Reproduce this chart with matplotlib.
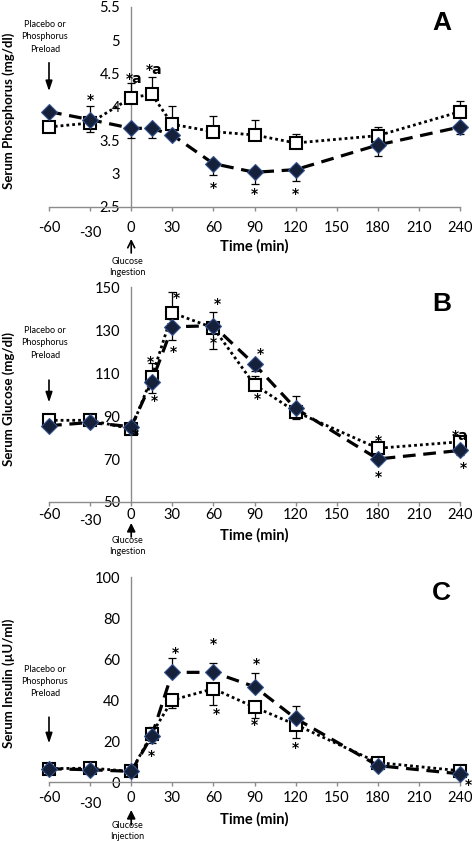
import matplotlib
matplotlib.use('Agg')
import matplotlib.pyplot as plt
import numpy as np
from matplotlib.transforms import offset_copy, blended_transform_factory, ScaledTranslation

plt.rcParams['font.family'] = ['Lato', 'DejaVu Sans']

# Sample times (min)
time = [-60, -30, 0, 15, 30, 60, 90, 120, 180, 240]
xticks = [-60, -30, 0, 30, 60, 90, 120, 150, 180, 210, 240]

# Panel A - serum phosphorus (mg/dl)
phos_p = [3.93, 3.81, 3.68, 3.68, 3.58, 3.15, 3.02, 3.06, 3.43, 3.70]
phos_p_err = [0.05, 0.18, 0.15, 0.15, 0.05, 0.17, 0.18, 0.17, 0.16, 0.11]
phos_c = [3.70, 3.76, 4.14, 4.19, 3.74, 3.63, 3.58, 3.46, 3.57, 3.93]
phos_c_err = [0.05, 0.26, 0.22, 0.26, 0.27, 0.23, 0.23, 0.14, 0.13, 0.16]

# Panel B - serum glucose (mg/dl)
glu_p = [85.5, 87, 85, 106, 131.5, 132, 114, 93.5, 70, 74]
glu_p_err = [1, 1, 1.5, 5.5, 6, 11, 3, 5, 2, 2]
glu_c = [88, 88, 84, 108, 138, 131, 104.5, 92, 75, 78]
glu_c_err = [1, 1, 1, 6.5, 9.5, 7.5, 4, 7.5, 3, 2]

# Panel C - serum insulin (uU/ml)
ins_p = [6.5, 6, 5.2, 22.5, 53.5, 53.5, 46.5, 31, 8, 4]
ins_p_err = [1, 1, 1, 4.5, 7, 4.5, 6.5, 6, 1, 1]
ins_c = [6.5, 6.8, 5.2, 23.5, 40, 45.5, 36.5, 28, 9.5, 5.5]
ins_c_err = [1, 1, 1, 4.5, 4, 8, 5.5, 6.5, 1, 1]

# significance marks (x, y, text)
marks_a = [(-30, 4.1, '*'), (2, 4.42, '*a'), (17, 4.56, '*a'),
           (60, 2.78, '*'), (90, 2.70, '*'), (120, 2.70, '*')]
marks_b = [(3, 81, '*'), (14, 115, '*'), (17, 97, '*'), (33, 145, '*'),
           (31, 120, '*'), (63, 142, '*'), (60, 124, '*'), (94, 119, '*'),
           (92, 98, '*'), (180, 78.5, '*'), (180, 61.5, '*'), (240, 80.5, '*a'),
           (242, 66, '*')]
marks_c = [(15, 12.5, '*'), (32, 63, '*'), (60, 67.5, '*'), (62, 33, '*'),
           (91, 57.5, '*'), (90, 28, '*'), (120, 16.5, '*'), (246, -1.5, '*')]

panels = [
    dict(p=phos_p, pe=phos_p_err, c=phos_c, ce=phos_c_err, ylim=(2.5, 5.5),
         yticks=np.arange(2.5, 5.51, 0.5), ylabel='Serum Phosphorus (mg/dl)',
         letter='A', marks=marks_a, pe_side='low', ce_side='high',
         rect=[0.1038, 0.7539, 0.871, 0.2378], pre_txt=0.85, pre_arr=(0.735, 0.565),
         xpad=7, tlab=39, glu=('Glucose\nIngestion', 32, 46, 60, '->')),
    dict(p=glu_p, pe=glu_p_err, c=glu_c, ce=glu_c_err, ylim=(50, 150),
         yticks=np.arange(50, 151, 20), ylabel='Serum Glucose (mg/dl)',
         letter='B', marks=marks_b, pe_side='low', ce_side='high',
         rect=[0.1038, 0.4031, 0.871, 0.2556], pre_txt=0.74, pre_arr=(0.58, 0.45),
         xpad=1.5, tlab=33, glu=('Glucose\nIngestion', 21, 35, 44, '-|>')),
    dict(p=ins_p, pe=ins_p_err, c=ins_c, ce=ins_c_err, ylim=(0, 100),
         yticks=np.arange(0, 101, 20), ylabel='Serum Insulin (\u00b5U/ml)',
         letter='C', marks=marks_c, pe_side='high', ce_side='low',
         rect=[0.1038, 0.0701, 0.871, 0.2438], pre_txt=0.49, pre_arr=(0.33, 0.175),
         xpad=3.6, tlab=37, glu=('Glucose\nInjection', 28, 43, 49, '-|>')),
]

fig = plt.figure(figsize=(4.72, 8.41), dpi=100)
axis_col = '#8c8c8c'
px = 72 / 100  # points per pixel


def yerr(err, side):
    err = np.array(err)
    z = np.zeros_like(err)
    return [err, z] if side == 'low' else [z, err]


for pn in panels:
    ax = fig.add_axes(pn['rect'])
    ax.set_xlim(-60, 240)
    ax.set_ylim(*pn['ylim'])

    # placebo (open squares, dotted)
    ax.errorbar(time, pn['c'], yerr=yerr(pn['ce'], pn['ce_side']), fmt='none',
                ecolor='black', elinewidth=0.9, capsize=3, capthick=0.9, zorder=3, clip_on=False)
    ax.plot(time, pn['c'], color='black', lw=2.0, linestyle=(0, (1, 1.1)),
            marker='s', markersize=9, markerfacecolor='white', markeredgecolor='black',
            markeredgewidth=1.5, zorder=4, clip_on=False)
    # phosphorus (filled diamonds, dashed)
    ax.errorbar(time, pn['p'], yerr=yerr(pn['pe'], pn['pe_side']), fmt='none',
                ecolor='black', elinewidth=0.9, capsize=3, capthick=0.9, zorder=5, clip_on=False)
    ax.plot(time, pn['p'], color='black', lw=2.3, linestyle=(0, (4, 2.4)),
            marker='D', markersize=8, markerfacecolor='#15203a', markeredgecolor='#34528c',
            markeredgewidth=0.8, zorder=6, clip_on=False)

    for x, y, t in pn['marks']:
        ax.text(x, y, t, ha='center', va='center', fontsize=10, fontweight='bold',
                family=['DejaVu Sans'], zorder=7)

    # axes styling: y axis crosses at x = 0
    for s in ['top', 'right']:
        ax.spines[s].set_visible(False)
    ax.spines['left'].set_position(('data', 0))
    for s in ['left', 'bottom']:
        ax.spines[s].set_color(axis_col)
        ax.spines[s].set_linewidth(1.0)
    ax.set_xticks(xticks)
    ax.set_xticklabels([str(v) for v in xticks])
    ax.set_yticks(pn['yticks'])
    ax.set_yticklabels(['{:g}'.format(v) for v in pn['yticks']])
    ax.tick_params(axis='x', direction='out', length=3, width=1, color=axis_col,
                   labelsize=10.5, pad=pn['xpad'])
    ax.tick_params(axis='y', length=0, labelsize=10.5, pad=8)
    for lab in ax.get_xticklabels():
        if lab.get_text() == '-30':
            lab.set_transform(lab.get_transform() + ScaledTranslation(0, -4 / 72, fig.dpi_scale_trans))
    ax.patch.set_visible(False)

    tr = blended_transform_factory(ax.transData, ax.transAxes)
    ax.text(90, 0, 'Time (min)', transform=offset_copy(tr, fig, y=-pn['tlab'] * px, units='points'),
            ha='center', va='center', fontsize=10.5, fontweight='bold')

    # y label at the far left of the figure
    r = pn['rect']
    fig.text(0.019, r[1] + r[3] * 0.48, pn['ylabel'], rotation=90, ha='center', va='center',
             fontsize=9.5, fontweight='bold')

    ax.text(0.955, 0.92, pn['letter'], transform=ax.transAxes, ha='center', va='center',
            fontsize=19, fontweight='bold', family=['Liberation Sans', 'DejaVu Sans'])

    # preload annotation
    ax.text(-63, pn['pre_txt'], 'Placebo or\nPhosphorus\nPreload', transform=tr,
            ha='center', va='center', fontsize=6.5, linespacing=1.45)
    ax.annotate('', xy=(-60, pn['pre_arr'][1]), xycoords=tr,
                xytext=(-60, pn['pre_arr'][0]), textcoords=tr,
                arrowprops=dict(arrowstyle='-|>,head_length=0.6,head_width=0.2',
                                color='black', lw=1.2))

    # glucose annotation under the x axis
    txt, tip, tail, tc, style = pn['glu']
    ax.annotate('', xy=(0, 0), xycoords=offset_copy(tr, fig, y=-tip * px, units='points'),
                xytext=(0, 0), textcoords=offset_copy(tr, fig, y=-tail * px, units='points'),
                arrowprops=dict(arrowstyle=style + ',head_length=0.5,head_width=0.25',
                                color='black', lw=1.2, shrinkA=0, shrinkB=0),
                annotation_clip=False)
    ax.text(-3, 0, txt, transform=offset_copy(tr, fig, y=-tc * px, units='points'),
            ha='center', va='center', fontsize=6.5, linespacing=1.4)

fig.savefig('out.png', dpi=100)
